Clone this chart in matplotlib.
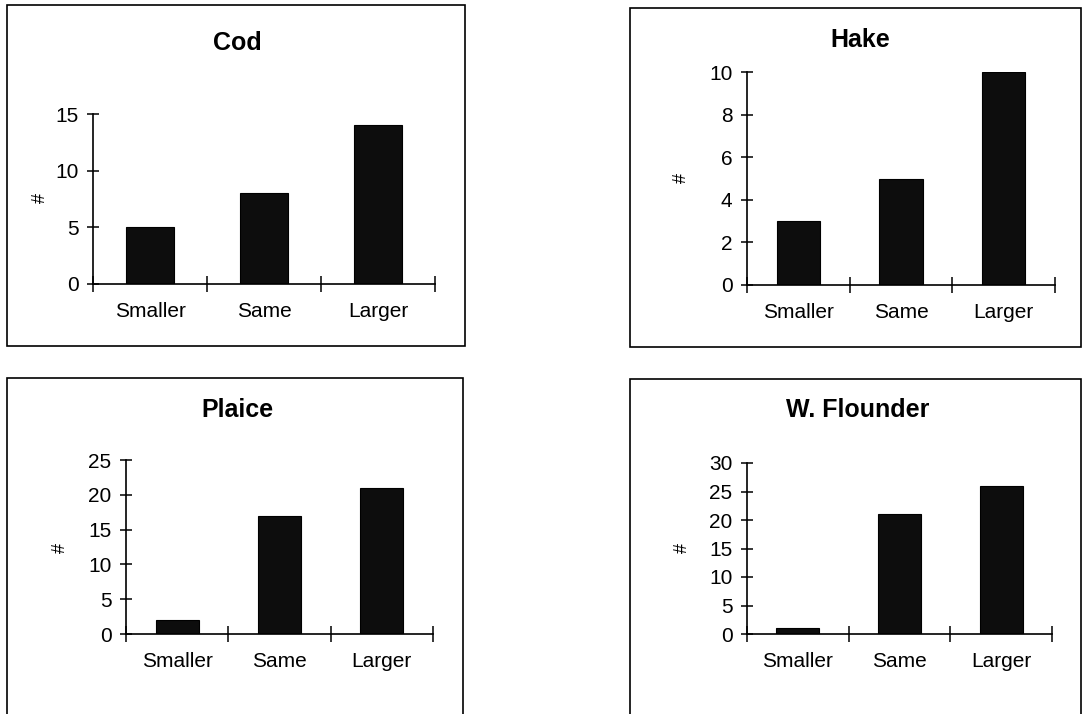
import matplotlib
matplotlib.use('Agg')
from matplotlib import pyplot as plt
from matplotlib.patches import Rectangle

plt.rcParams['font.family'] = ['Liberation Sans', 'DejaVu Sans']

categories = ['Smaller', 'Same', 'Larger']
cod = [5, 8, 14]
hake = [3, 5, 10]
plaice = [2, 17, 21]
flounder = [1, 21, 26]

W, H = 1082, 714
fig = plt.figure(figsize=(W / 100, H / 100), dpi=100)


def fx(x):
    return x / W


def fy(y):
    return 1 - y / H


# panel settings: title, values, y max, y step, axes box (px), frame box (px), title pos, ylabel pos
panels = [
    ('Cod', cod, 15, 5, (93, 435, 284, 114), (7, 5, 465, 346), (237, 43), (40, 198)),
    ('Hake', hake, 10, 2, (747, 1055, 285, 72), (630, 8, 1081, 347), (860, 40), (681, 178)),
    ('Plaice', plaice, 25, 5, (126, 433, 634, 460), (7, 378, 463, 740), (237, 410), (60, 548)),
    ('W. Flounder', flounder, 30, 5, (747, 1052, 634, 463), (630, 379, 1081, 740), (858, 410), (682, 548)),
]

for title, vals, ymax, step, ab, fb, tpos, lpos in panels:
    # frame around each chart
    x0, y0, x1, y1 = fb
    fig.patches.append(Rectangle((fx(x0), fy(y1)), fx(x1) - fx(x0), fy(y0) - fy(y1),
                                 transform=fig.transFigure, fill=False,
                                 edgecolor='black', linewidth=1.2))

    l, r, b, t = ab
    ax = fig.add_axes([fx(l), fy(b), fx(r) - fx(l), fy(t) - fy(b)])
    pos = [i + 0.5 for i in range(len(categories))]
    ax.bar(pos, vals, width=0.42, color='#0d0d0d', edgecolor='black', linewidth=0.8)

    ax.set_xlim(0, len(categories))
    ax.set_ylim(0, ymax)
    ax.set_yticks(range(0, ymax + 1, step))
    ax.set_xticks(range(len(categories) + 1))
    ax.set_xticklabels([])
    ax.set_xticks(pos, minor=True)
    ax.set_xticklabels(categories, minor=True)

    for s in ['top', 'right']:
        ax.spines[s].set_visible(False)
    for s in ['left', 'bottom']:
        ax.spines[s].set_linewidth(1.2)

    ax.tick_params(axis='y', direction='inout', length=9, width=1.1, labelsize=15, pad=6)
    ax.tick_params(axis='x', which='major', direction='inout', length=11, width=1.1)
    ax.tick_params(axis='x', which='minor', length=0, labelsize=15, pad=13)
    ax.patch.set_alpha(0)

    fig.text(fx(tpos[0]), fy(tpos[1]), title, ha='center', va='center',
             fontsize=18, fontweight='bold')
    fig.text(fx(lpos[0]), fy(lpos[1]), '#', ha='center', va='center',
             fontsize=13, rotation=90)

fig.savefig('out.png', dpi=100)
